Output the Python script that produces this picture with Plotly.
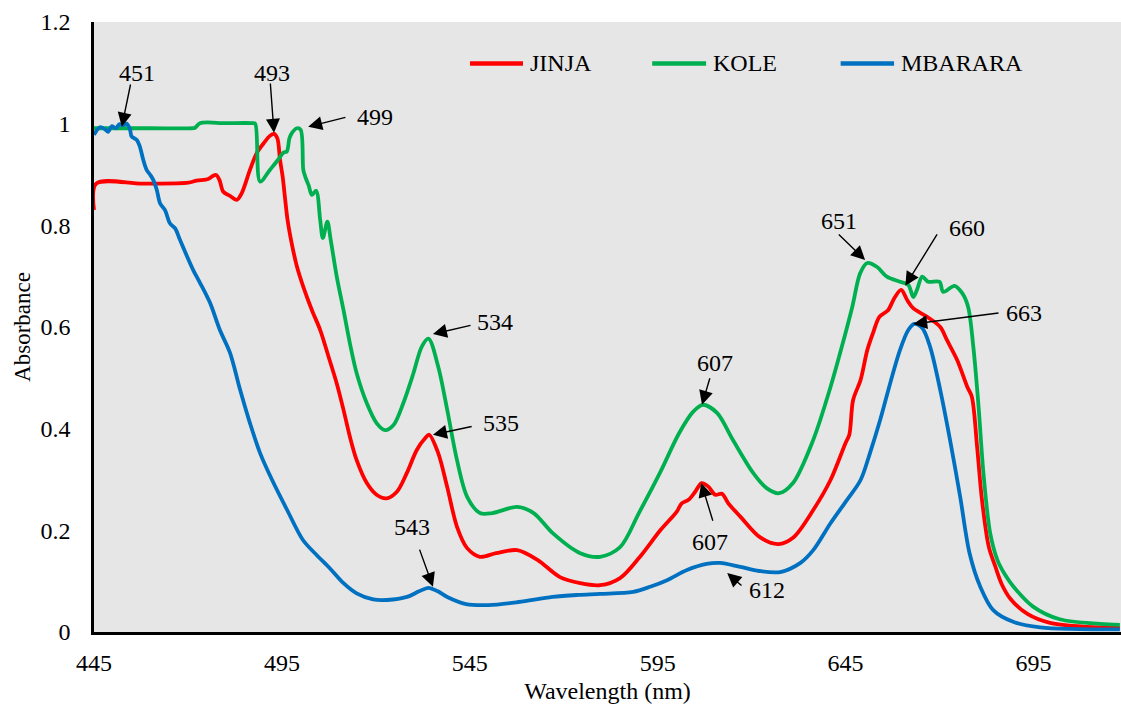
import plotly.graph_objects as go

# Absorbance spectra of three samples (wavelength in nm)
jinja_nm = [445.0, 445.6, 458.0, 470.1, 472.3, 475.4, 476.6, 477.5, 478.4, 479.4, 481.2,
            483.0, 484.3, 486.5, 488.3, 490.1, 491.8, 492.9, 493.8, 494.5, 495.2,
            495.8, 496.5, 497.6, 499.0, 500.7, 503.0, 505.2, 507.4, 509.6, 511.4,
            513.1, 514.9, 517.6, 520.2, 522.9, 525.6, 528.2, 530.9, 533.1, 534.2,
            536.6, 539.0, 541.6, 544.3, 547.7, 552.0, 557.6, 563.0, 569.0, 574.4,
            579.7, 585.0, 590.3, 595.7, 600.1, 601.4, 603.2, 605.0, 606.7, 608.5,
            610.3, 612.1, 613.8, 617.0, 622.3, 627.1, 631.1, 636.4, 641.0, 645.0,
            646.0, 647.0, 649.0, 650.8, 652.4, 654.0, 656.3, 658.0, 659.8, 661.4,
            663.0, 666.7, 670.2, 672.0, 674.7, 677.4, 678.6, 680.0, 681.3, 683.1,
            684.8, 686.5, 688.8, 693.5, 699.4, 709.3, 718.0]
jinja_abs = [0.830, 0.882, 0.882, 0.884, 0.888, 0.891, 0.897, 0.899, 0.889, 0.866, 0.858,
             0.850, 0.863, 0.909, 0.942, 0.961, 0.976, 0.980, 0.971, 0.929, 0.896,
             0.856, 0.811, 0.765, 0.719, 0.679, 0.633, 0.594, 0.542, 0.489, 0.437,
             0.384, 0.338, 0.293, 0.270, 0.263, 0.276, 0.312, 0.358, 0.381, 0.388,
             0.352, 0.285, 0.207, 0.165, 0.148, 0.155, 0.161, 0.142, 0.108, 0.096,
             0.092, 0.106, 0.148, 0.200, 0.237, 0.253, 0.260, 0.276, 0.293, 0.286,
             0.270, 0.272, 0.253, 0.227, 0.186, 0.173, 0.186, 0.240, 0.299, 0.372,
             0.388, 0.456, 0.496, 0.555, 0.590, 0.620, 0.633, 0.657, 0.673, 0.653,
             0.637, 0.620, 0.600, 0.574, 0.535, 0.482, 0.463, 0.365, 0.260, 0.168,
             0.130, 0.095, 0.066, 0.035, 0.018, 0.010, 0.008]

kole_nm = [445.0, 460.0, 471.2, 471.9, 473.2, 480.0, 487.2, 487.9, 489.2, 491.8, 494.0,
           495.4, 496.3, 497.0,
           497.6, 499.0, 500.0, 500.7, 501.2, 502.1, 503.0, 504.1, 505.2, 505.9,
           507.1, 508.0, 509.6, 511.4, 513.1, 514.9, 517.6, 520.2, 522.5, 524.7,
           527.3, 530.0, 532.2, 534.0, 536.6, 539.0, 541.6, 544.3, 547.7, 551.0,
           557.6, 562.0, 567.0, 574.4, 579.7, 585.0, 590.0, 595.6, 600.7, 604.4,
           607.0, 610.8, 615.0, 620.4, 624.0, 627.3, 631.0, 636.4, 641.0, 644.0,
           646.8, 648.9, 650.8, 653.4, 656.0, 659.5, 661.7, 663.0, 664.0, 665.4,
           667.0, 670.0, 671.0, 674.0, 676.0, 677.6, 679.0, 680.4, 681.7, 683.5,
           685.5, 687.5, 689.6, 694.9, 702.0, 712.8, 718.0]
kole_abs = [0.991, 0.991, 0.991, 0.992, 1.001, 1.001, 1.001, 1.000, 0.886, 0.909, 0.929,
            0.943, 0.945, 0.971,
            0.981, 0.991, 0.988, 0.909, 0.896, 0.879, 0.860, 0.868, 0.810, 0.775,
            0.807, 0.771, 0.699, 0.633, 0.568, 0.509, 0.450, 0.411, 0.397, 0.407,
            0.450, 0.509, 0.561, 0.577, 0.522, 0.437, 0.338, 0.266, 0.234, 0.234,
            0.246, 0.234, 0.195, 0.155, 0.148, 0.167, 0.234, 0.313, 0.391, 0.433,
            0.447, 0.431, 0.378, 0.313, 0.283, 0.273, 0.293, 0.378, 0.482, 0.561,
            0.640, 0.706, 0.726, 0.718, 0.699, 0.689, 0.683, 0.659, 0.673, 0.699,
            0.689, 0.689, 0.669, 0.681, 0.667, 0.640, 0.561, 0.443, 0.312, 0.194,
            0.140, 0.112, 0.090, 0.050, 0.025, 0.016, 0.014]

mbarara_nm = [445.0, 446.6, 447.9, 448.8, 449.7, 450.9, 451.7, 452.8, 453.7, 454.6,
              455.0, 456.4, 457.2, 458.1, 459.0, 460.0, 460.8, 461.7, 462.6, 463.9,
              465.2, 466.6, 467.9, 471.4, 473.2, 475.9, 478.5, 481.2, 483.9, 486.5,
              489.2, 492.4, 496.4, 500.6, 504.3, 507.8, 511.4, 514.9, 519.3, 523.0,
              528.3, 531.5, 534.0, 536.5, 539.0, 544.0, 550.0, 558.0, 567.0, 574.0,
              579.7, 588.5, 593.0, 597.5, 602.8, 608.0, 611.6, 617.0, 622.0, 627.6,
              633.0, 636.4, 641.0, 645.4, 649.0, 651.5, 654.2, 656.9, 659.5, 661.7,
              663.3, 665.4, 667.5, 670.2, 672.8, 675.5, 678.0, 680.8, 684.3, 689.6,
              696.8, 718.0]
mbarara_abs = [0.978, 0.993, 0.989, 0.984, 0.995, 0.991, 0.999, 0.997, 1.000, 0.988,
               0.975, 0.968, 0.955, 0.929, 0.909, 0.899, 0.889, 0.870, 0.843, 0.830,
               0.804, 0.794, 0.771, 0.712, 0.687, 0.647, 0.594, 0.549, 0.476, 0.411,
               0.352, 0.299, 0.240, 0.181, 0.151, 0.125, 0.096, 0.076, 0.064, 0.063,
               0.069, 0.080, 0.087, 0.080, 0.069, 0.055, 0.053, 0.059, 0.069, 0.073,
               0.075, 0.079, 0.089, 0.102, 0.122, 0.134, 0.136, 0.128, 0.120, 0.118,
               0.136, 0.161, 0.214, 0.260, 0.299, 0.352, 0.417, 0.490, 0.555, 0.594,
               0.606, 0.598, 0.561, 0.476, 0.378, 0.266, 0.155, 0.090, 0.043, 0.020,
               0.009, 0.005]

series_names = ["JINJA", "KOLE", "MBARARA"]
series_colors = ["#FF0000", "#00B050", "#0070C0"]
x_ticks = [445, 495, 545, 595, 645, 695]
y_ticks = [0, 0.2, 0.4, 0.6, 0.8, 1, 1.2]

# Peak labels: (text, arrow tip, arrow tail, text centre) in data units
peak_labels = [
    ("451", (452.4, 0.994), (454.8, 1.080), (456.4, 1.100)),
    ("493", (492.9, 0.982), (491.9, 1.082), (492.4, 1.100)),
    ("499", (502.0, 0.994), (512.3, 1.013), (519.8, 1.013)),
    ("534", (535.2, 0.586), (545.6, 0.604), (551.7, 0.610)),
    ("535", (535.2, 0.388), (545.9, 0.405), (553.3, 0.411)),
    ("543", (535.2, 0.089), (531.5, 0.165), (529.6, 0.207)),
    ("607", (606.8, 0.447), (609.0, 0.502), (610.3, 0.529)),
    ("607", (606.6, 0.293), (609.8, 0.216), (609.0, 0.177)),
    ("612", (613.5, 0.116), (617.7, 0.089), (624.1, 0.083)),
    ("651", (650.2, 0.732), (642.8, 0.785), (643.3, 0.809)),
    ("660", (660.9, 0.681), (669.6, 0.785), (677.4, 0.795)),
    ("663", (663.0, 0.606), (686.1, 0.628), (692.5, 0.628)),
]

FONT = "Liberation Serif"

fig = go.Figure()
for name, xs, ys, col in zip(series_names,
                             [jinja_nm, kole_nm, mbarara_nm],
                             [jinja_abs, kole_abs, mbarara_abs],
                             series_colors):
    fig.add_trace(go.Scatter(x=xs, y=ys, name=name, mode="lines",
                             line=dict(color=col, width=3.8, shape="spline", smoothing=0.9),
                             showlegend=False))

annotations = []
for text, tip, tail, pos in peak_labels:
    annotations.append(dict(x=tip[0], y=tip[1], ax=tail[0], ay=tail[1],
                            xref="x", yref="y", axref="x", ayref="y",
                            text="", showarrow=True, arrowhead=2,
                            arrowsize=2, arrowwidth=1.4, arrowcolor="black"))
    annotations.append(dict(x=pos[0], y=pos[1], xref="x", yref="y", text=text,
                            showarrow=False, xanchor="center", yanchor="middle",
                            font=dict(family=FONT, size=24, color="black")))

# Legend row inside the plot area
legend_y = 0.932
legend_items = [(0.3661, 0.4177, 0.4226), (0.5435, 0.5960, 0.6010), (0.7270, 0.7790, 0.7835)]
shapes = []
for (x0, x1, xt), name, col in zip(legend_items, series_names, series_colors):
    shapes.append(dict(type="line", xref="paper", yref="paper", x0=x0, x1=x1,
                       y0=legend_y, y1=legend_y, line=dict(color=col, width=4.5)))
    annotations.append(dict(x=xt, y=legend_y, xref="paper", yref="paper", text=name,
                            showarrow=False, xanchor="left", yanchor="middle",
                            font=dict(family=FONT, size=24, color="black")))

fig.update_layout(
    width=1121, height=708,
    margin=dict(l=94, r=0, t=22, b=76),
    paper_bgcolor="white",
    plot_bgcolor="#E6E6E6",
    font=dict(family=FONT, size=24, color="black"),
    annotations=annotations,
    shapes=shapes,
    xaxis=dict(range=[445, 718.3], tickvals=x_ticks, showgrid=False, zeroline=False,
               showline=True, linecolor="black", linewidth=2.5, ticks="",
               ticklabelstandoff=7,
               title=dict(text="Wavelength (nm)", standoff=8,
                          font=dict(family=FONT, size=24))),
    yaxis=dict(range=[0, 1.2], tickvals=y_ticks, showgrid=False, zeroline=False,
               showline=True, linecolor="black", linewidth=2.5, ticks="",
               ticklabelstandoff=16,
               title=dict(text="Absorbance", standoff=4,
                          font=dict(family=FONT, size=23))),
)

fig.write_html("out.html")
